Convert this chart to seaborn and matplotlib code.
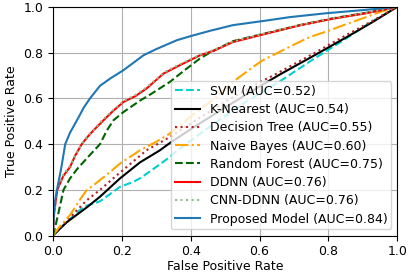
import pandas as pd
import matplotlib
matplotlib.use('Agg')
import matplotlib.pyplot as plt
import seaborn as sns

# ROC curves
svm_fpr = [0, 0.021, 0.031, 0.089, 0.137, 0.195, 0.234, 0.253, 0.30, 0.34, 0.36, 0.45, 0.55, 0.66, 0.75, 0.85, 0.92, 1.0]
svm_tpr = [0, 0.03, 0.046, 0.126, 0.15, 0.213, 0.235, 0.25, 0.30, 0.344, 0.37, 0.47, 0.575, 0.675, 0.765, 0.86, 0.93, 1.0]

knn_fpr = [0, 0.04, 0.10, 0.137, 0.195, 0.253, 0.311, 0.34, 0.40, 0.50, 0.60, 0.66, 0.75, 0.85, 0.93, 1.0]
knn_tpr = [0, 0.058, 0.125, 0.17, 0.25, 0.32, 0.373, 0.405, 0.465, 0.56, 0.652, 0.705, 0.78, 0.865, 0.935, 1.0]

dt_fpr = [0, 0.04, 0.089, 0.099, 0.137, 0.186, 0.272, 0.34, 0.40, 0.50, 0.60, 0.64, 0.75, 0.85, 0.93, 1.0]
dt_tpr = [0, 0.065, 0.14, 0.155, 0.20, 0.264, 0.373, 0.431, 0.49, 0.585, 0.67, 0.70, 0.79, 0.875, 0.94, 1.0]

nb_fpr = [0, 0.02, 0.05, 0.08, 0.099, 0.118, 0.16, 0.195, 0.253, 0.30, 0.34, 0.40, 0.47, 0.53, 0.581, 0.61, 0.649, 0.70, 0.746, 0.80, 0.842, 0.90, 0.949, 1.0]
nb_tpr = [0, 0.04, 0.09, 0.16, 0.20, 0.22, 0.27, 0.315, 0.373, 0.41, 0.446, 0.52, 0.60, 0.68, 0.737, 0.767, 0.796, 0.835, 0.868, 0.895, 0.919, 0.95, 0.977, 1.0]

rf_fpr = [0, 0.007, 0.016, 0.031, 0.05, 0.07, 0.10, 0.137, 0.157, 0.176, 0.205, 0.253, 0.282, 0.34, 0.38, 0.427, 0.456, 0.523, 0.62, 0.717, 0.813, 0.91, 1.0]
rf_tpr = [0, 0.038, 0.097, 0.20, 0.25, 0.29, 0.34, 0.40, 0.46, 0.504, 0.54, 0.59, 0.616, 0.672, 0.72, 0.774, 0.80, 0.85, 0.885, 0.92, 0.95, 0.974, 1.0]

ddnn_fpr = [0, 0.004, 0.013, 0.03, 0.05, 0.065, 0.084, 0.10, 0.118, 0.147, 0.175, 0.205, 0.24, 0.272, 0.30, 0.321, 0.369, 0.427, 0.47, 0.523, 0.62, 0.717, 0.813, 0.91, 1.0]
ddnn_tpr = [0, 0.10, 0.20, 0.26, 0.30, 0.35, 0.40, 0.43, 0.46, 0.504, 0.545, 0.584, 0.61, 0.643, 0.68, 0.708, 0.745, 0.788, 0.81, 0.846, 0.883, 0.919, 0.948, 0.972, 1.0]

cnn_fpr = [0, 0.004, 0.012, 0.03, 0.05, 0.066, 0.083, 0.10, 0.118, 0.146, 0.176, 0.205, 0.24, 0.272, 0.30, 0.322, 0.37, 0.427, 0.47, 0.523, 0.62, 0.717, 0.813, 0.91, 1.0]
cnn_tpr = [0, 0.11, 0.205, 0.265, 0.305, 0.352, 0.40, 0.434, 0.462, 0.508, 0.55, 0.588, 0.615, 0.648, 0.683, 0.712, 0.75, 0.79, 0.813, 0.848, 0.886, 0.92, 0.95, 0.974, 1.0]

prop_fpr = [0, 0.004, 0.012, 0.025, 0.036, 0.05, 0.07, 0.09, 0.108, 0.137, 0.17, 0.205, 0.263, 0.30, 0.36, 0.40, 0.456, 0.523, 0.62, 0.688, 0.794, 0.91, 1.0]
prop_tpr = [0, 0.13, 0.20, 0.30, 0.40, 0.45, 0.504, 0.56, 0.60, 0.655, 0.69, 0.723, 0.788, 0.815, 0.854, 0.872, 0.895, 0.92, 0.94, 0.955, 0.972, 0.987, 1.0]

modelos = ['SVM', 'K-Nearest', 'Decision Tree', 'Naive Bayes', 'Random Forest', 'DDNN', 'CNN-DDNN', 'Proposed Model']
aucs = [0.52, 0.54, 0.55, 0.60, 0.75, 0.76, 0.76, 0.84]
curvas = [(svm_fpr, svm_tpr), (knn_fpr, knn_tpr), (dt_fpr, dt_tpr), (nb_fpr, nb_tpr),
          (rf_fpr, rf_tpr), (ddnn_fpr, ddnn_tpr), (cnn_fpr, cnn_tpr), (prop_fpr, prop_tpr)]
cores = ['darkturquoise', 'black', 'firebrick', 'orange', 'darkgreen', 'red', 'darkseagreen', 'tab:blue']
estilos = ['--', '-', ':', '-.', '--', '-', ':', '-']

plt.rcParams['font.size'] = 9

fig, ax = plt.subplots(figsize=(4.16, 2.73), dpi=100)
fig.subplots_adjust(left=0.127, right=0.955, bottom=0.137, top=0.975)

for nome, auc, (fpr, tpr), cor, estilo in zip(modelos, aucs, curvas, cores, estilos):
    df = pd.DataFrame({'fpr': fpr, 'tpr': tpr})
    sns.lineplot(data=df, x='fpr', y='tpr', ax=ax, color=cor, linestyle=estilo,
                 linewidth=1.5, sort=False, estimator=None,
                 label=f'{nome} (AUC={auc:.2f})')

ax.set_xlim(0, 1)
ax.set_ylim(0, 1)
ax.set_xlabel('False Positive Rate', labelpad=1)
ax.set_ylabel('True Positive Rate', labelpad=4)
ax.grid(True, color='#b0b0b0', linewidth=0.8)
ax.legend(loc='lower right', fontsize=9, labelspacing=0.42, borderpad=0.3)

plt.savefig('out.png', dpi=100)
